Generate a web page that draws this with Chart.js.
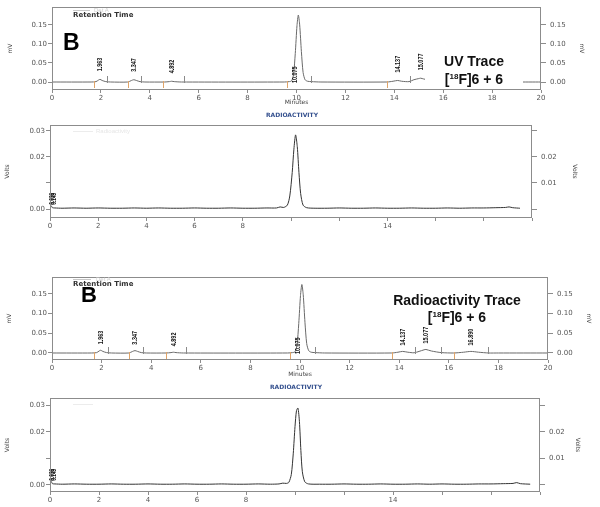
<!DOCTYPE html>
<html>
<head>
<meta charset="utf-8">
<script src="https://cdn.jsdelivr.net/npm/chart.js@4"></script>
<style>
body { margin: 0; background: #fff; }
#page { position: relative; width: 600px; height: 507px; overflow: hidden; font-family: "Liberation Sans", Arial, sans-serif; }
.panel { position: absolute; left: 0; width: 600px; }
.txt { position: absolute; white-space: nowrap; line-height: 1; }
.big { font-weight: bold; font-size: 14px; color: #111; text-align: center; line-height: 16px; }
.big sup { font-size: 8px; vertical-align: 5px; }
.faint { position: absolute; background: #c8c8c8; height: 1px; }
</style>
</head>
<body>
<div id="page">
  <div class="panel" style="top:0;height:108px"><canvas id="uvTop"></canvas></div>
  <div class="panel" style="top:100px;height:130px"><canvas id="radTop"></canvas></div>
  <div class="panel" style="top:262px;height:118px"><canvas id="uvBot"></canvas></div>
  <div class="panel" style="top:380px;height:127px"><canvas id="radBot"></canvas></div>

  <!-- panel 1 texts -->
  <div class="faint" style="left:73px;top:10px;width:17px"></div>
  <div class="txt" style="left:94px;top:7px;font-size:6px;color:#d0d0d0">Det A</div>
  <div class="txt" style="left:73px;top:11px;font:bold 7px 'DejaVu Sans';color:#333">Retention Time</div>
  <div class="txt" style="left:63px;top:31px;font-weight:bold;font-size:23px;color:#000">B</div>
  <div class="txt" style="left:425px;top:50px;width:98px;height:36px;background:#fff"></div>
  <div class="txt big" style="left:425px;top:53px;width:98px">UV Trace</div>
  <div class="txt big" style="left:425px;top:69px;width:98px">[<sup>18</sup>F]6 + 6</div>

  <!-- panel 2 texts -->
  <div class="txt" style="left:242px;top:111px;width:100px;text-align:center;font:bold 6px 'DejaVu Sans';color:#34508e">RADIOACTIVITY</div>
  <div class="faint" style="left:73px;top:131px;width:20px;background:#ececec"></div>
  <div class="txt" style="left:96px;top:128px;font-size:6px;color:#e6e6e6">Radioactivity</div>

  <!-- panel 3 texts -->
  <div class="faint" style="left:73px;top:279px;width:18px"></div>
  <div class="txt" style="left:96px;top:276px;font-size:6px;color:#d0d0d0">Det A</div>
  <div class="txt" style="left:73px;top:280px;font:bold 7px 'DejaVu Sans';color:#333">Retention Time</div>
  <div class="txt" style="left:81px;top:284px;font-weight:bold;font-size:22px;color:#000">B</div>
  <div class="txt big" style="left:377px;top:292px;width:160px">Radioactivity Trace</div>
  <div class="txt big" style="left:377px;top:307px;width:160px">[<sup>18</sup>F]6 + 6</div>

  <!-- panel 4 texts -->
  <div class="txt" style="left:246px;top:383px;width:100px;text-align:center;font:bold 6px 'DejaVu Sans';color:#34508e">RADIOACTIVITY</div>
  <div class="faint" style="left:73px;top:404px;width:20px;background:#ececec"></div>
</div>

<script>
// axis ticks
const minuteTicks = [0, 2, 4, 6, 8, 10, 12, 14, 16, 18, 20];
const uvMinuteLabels = [0, 2, 4, 6, 8, 10, 12, 14, 16, 18, 20];
const radMinuteLabels = [0, 2, 4, 6, 8, 14];
const mvTicks = [0, 0.05, 0.10, 0.15];
const voltTicks = [0, 0.01, 0.02, 0.03];
const voltLeftLabels = [0, 0.02, 0.03];
const voltRightLabels = [0.01, 0.02];

// UV trace (top), minutes / mV
const uvTopTime = [0, 1.6, 1.8, 1.9, 1.963, 2.05, 2.2, 2.4, 3.1, 3.25, 3.347, 3.45, 3.6, 3.8, 4.6, 4.8, 4.892, 5.0, 5.3,
  9.5, 9.7, 9.8, 9.88, 9.95, 10.02, 10.075, 10.13, 10.2, 10.27, 10.35, 10.45, 10.6, 11,
  13.7, 13.95, 14.137, 14.3, 14.6, 14.8, 15.0, 15.077, 15.2, 15.5, 16, 17, 18, 19, 20];
const uvTopMv = [0, 0, 0.001, 0.005, 0.007, 0.004, 0.001, 0, 0, 0.004, 0.006, 0.004, 0.001, 0, 0, 0.001, 0.002, 0.001, 0,
  0, 0.001, 0.003, 0.02, 0.075, 0.148, 0.176, 0.15, 0.08, 0.025, 0.006, 0.002, 0.001, 0,
  0, 0.002, 0.004, 0.002, 0.001, 0.006, 0.009, 0.010, 0.008, 0.004, 0.001, 0, 0, 0, 0];
const uvTopPeaks = [1.963, 3.347, 4.892, 10.075, 14.137, 15.077];
const uvTopStarts = [1.7, 3.1, 4.55, 9.6, 13.7];
const uvTopEnds = [2.25, 3.65, 5.4, 10.6, 14.65];

// radioactivity trace (top), minutes / volts
const radTopTime = [0, 0.05, 0.1, 0.2, 0.5, 1, 1.5, 2, 2.5, 3, 3.5, 4, 4.5, 5, 5.5, 6, 6.5, 7, 7.5, 8, 8.5, 9, 9.4, 9.55, 9.7,
  9.85, 9.95, 10.05, 10.12, 10.19, 10.26, 10.33, 10.4, 10.5, 10.65, 11, 11.5, 12, 12.5, 13, 13.5, 14, 14.5, 15, 15.5,
  16, 16.5, 17, 17.5, 18, 18.5, 18.9, 19.05, 19.2, 19.5];
const radTopV = [0.0006, 0.0012, 0.0005, 0.0004, 0.0003, 0.0004, 0.0003, 0.0004, 0.0003, 0.0003, 0.0004, 0.0003, 0.0004,
  0.0003, 0.0003, 0.0004, 0.0003, 0.0003, 0.0004, 0.0003, 0.0003, 0.0004, 0.0004, 0.0008, 0.0006,
  0.0015, 0.005, 0.014, 0.023, 0.0285, 0.024, 0.014, 0.006, 0.0015, 0.0005, 0.0003, 0.0003, 0.0004, 0.0003, 0.0003,
  0.0004, 0.0003, 0.0003, 0.0004, 0.0003, 0.0003, 0.0004, 0.0003, 0.0004, 0.0004, 0.0005, 0.0006, 0.0008, 0.0005, 0.0003];
const radTopPeaks = [0.096, 0.149];

// UV trace (bottom)
const uvBotTime = [0, 1.6, 1.8, 1.9, 1.963, 2.05, 2.2, 2.4, 3.1, 3.25, 3.347, 3.45, 3.6, 3.8, 4.6, 4.8, 4.892, 5.0, 5.3,
  9.5, 9.7, 9.8, 9.88, 9.95, 10.02, 10.075, 10.13, 10.2, 10.27, 10.35, 10.45, 10.6, 11,
  13.7, 13.95, 14.137, 14.35, 14.6, 14.8, 15.0, 15.077, 15.3, 15.7, 16.2, 16.6, 16.89, 17.2, 17.6, 18, 20];
const uvBotMv = [0, 0, 0.001, 0.005, 0.007, 0.004, 0.001, 0, 0, 0.004, 0.006, 0.004, 0.001, 0, 0, 0.001, 0.002, 0.001, 0,
  0, 0.001, 0.003, 0.02, 0.075, 0.146, 0.174, 0.148, 0.078, 0.024, 0.006, 0.002, 0.001, 0,
  0, 0.002, 0.004, 0.002, 0.0005, 0.004, 0.008, 0.009, 0.005, 0.001, 0, 0.002, 0.004, 0.002, 0, 0, 0];
const uvBotPeaks = [1.963, 3.347, 4.892, 10.075, 14.137, 15.077, 16.890];
const uvBotStarts = [1.7, 3.1, 4.6, 9.6, 13.7, 16.2];
const uvBotEnds = [2.25, 3.65, 5.4, 10.6, 14.65, 15.7, 17.6];

// radioactivity trace (bottom)
const radBotTime = [0, 0.05, 0.1, 0.2, 0.5, 1, 1.5, 2, 2.5, 3, 3.5, 4, 4.5, 5, 5.5, 6, 6.5, 7, 7.5, 8, 8.5, 9, 9.35, 9.5, 9.65,
  9.75, 9.85, 9.93, 10.0, 10.06, 10.12, 10.18, 10.24, 10.3, 10.4, 10.55, 11, 11.5, 12, 12.5, 13, 13.5, 14, 14.5, 15, 15.5,
  16, 16.5, 17, 17.5, 18, 18.5, 18.9, 19.05, 19.2, 19.6];
const radBotV = [0.0006, 0.0013, 0.0005, 0.0004, 0.0003, 0.0004, 0.0003, 0.0003, 0.0004, 0.0003, 0.0003, 0.0004, 0.0003,
  0.0003, 0.0004, 0.0003, 0.0003, 0.0004, 0.0003, 0.0003, 0.0004, 0.0003, 0.0004, 0.0007, 0.0006,
  0.001, 0.004, 0.012, 0.022, 0.028, 0.029, 0.024, 0.013, 0.005, 0.0012, 0.0004, 0.0003, 0.0003, 0.0004, 0.0003, 0.0003,
  0.0004, 0.0003, 0.0003, 0.0004, 0.0003, 0.0004, 0.0003, 0.0003, 0.0004, 0.0004, 0.0005, 0.0006, 0.0009, 0.0005, 0.0003];
const radBotPeaks = [0.096, 0.149];

const tickFont = { family: "DejaVu Sans", size: 7 };
const tickColor = "#555";

// box around the plot area
const framePlugin = {
  id: "frame",
  afterDraw(chart) {
    const { ctx, chartArea: a } = chart;
    ctx.save();
    ctx.strokeStyle = "#8c8c8c";
    ctx.lineWidth = 1;
    ctx.strokeRect(Math.round(a.left) + 0.5, Math.round(a.top) + 0.5, Math.round(a.width) - 1, Math.round(a.height) - 1);
    ctx.restore();
  }
};

// integration start / end marks on the baseline
const marksPlugin = {
  id: "marks",
  afterDatasetsDraw(chart, args, opts) {
    const { ctx, scales: { x, y } } = chart;
    const y0 = Math.round(y.getPixelForValue(0));
    ctx.save();
    ctx.lineWidth = 1;
    (opts.starts || []).forEach(t => {
      const px = Math.round(x.getPixelForValue(t)) + 0.5;
      ctx.strokeStyle = "#e0a468";
      ctx.beginPath(); ctx.moveTo(px, y0 - 1); ctx.lineTo(px, y0 + 6); ctx.stroke();
    });
    (opts.ends || []).forEach(t => {
      const px = Math.round(x.getPixelForValue(t)) + 0.5;
      ctx.strokeStyle = "#8a8a8a";
      ctx.beginPath(); ctx.moveTo(px, y0 + 1); ctx.lineTo(px, y0 - 6); ctx.stroke();
    });
    ctx.restore();
  }
};

// rotated retention-time labels above each peak
const peakLabelPlugin = {
  id: "peakLabels",
  afterDatasetsDraw(chart, args, opts) {
    if (!opts.times) return;
    const { ctx, scales: { x, y } } = chart;
    const trace = chart.data.datasets[0].data;
    ctx.save();
    ctx.font = opts.font;
    ctx.fillStyle = opts.color;
    ctx.textAlign = "left";
    ctx.textBaseline = "middle";
    opts.times.forEach(t => {
      const apex = trace.reduce((a, p) => Math.abs(p.x - t) < Math.abs(a.x - t) ? p : a);
      let px = x.getPixelForValue(t);
      let py;
      if (apex.y > opts.tall) {
        py = y.getPixelForValue(0) + 1;
        px -= 4;
      } else {
        py = y.getPixelForValue(apex.y) - opts.gap;
      }
      ctx.save();
      ctx.translate(px, py);
      ctx.rotate(-Math.PI / 2);
      ctx.scale(0.68, 1);
      ctx.fillText(t.toFixed(3), 0, 0);
      ctx.restore();
    });
    ctx.restore();
  }
};

function yAxis(pos, cfg, labels, width) {
  return {
    type: "linear",
    position: pos,
    min: cfg.yMin,
    max: cfg.yMax,
    afterBuildTicks: s => { s.ticks = cfg.yTicks.map(v => ({ value: v })); },
    afterFit: s => { s.width = width; s.paddingTop = 0; s.paddingBottom = 0; },
    ticks: {
      font: tickFont, color: tickColor, padding: pos === "left" ? 1 : 4,
      callback: v => labels.includes(v) ? v.toFixed(2) : ""
    },
    grid: { drawOnChartArea: false, tickLength: pos === "left" ? 4 : 5, color: "#8c8c8c" },
    border: { display: false },
    title: { display: true, text: cfg.unit, font: { family: "DejaVu Sans", size: 6 }, color: "#444", padding: { top: 4, bottom: 4 } }
  };
}

function makeChart(id, cfg) {
  return new Chart(document.getElementById(id), {
    type: "line",
    data: {
      datasets: [{
        data: cfg.time.map((t, i) => ({ x: t, y: cfg.val[i] })),
        borderColor: cfg.color,
        borderWidth: 1,
        pointRadius: 0,
        tension: 0.25
      }]
    },
    options: {
      animation: false,
      responsive: true,
      maintainAspectRatio: false,
      layout: { padding: cfg.pad },
      plugins: {
        legend: { display: false },
        tooltip: { enabled: false },
        marks: { starts: cfg.starts, ends: cfg.ends },
        peakLabels: { times: cfg.peaks, font: cfg.labelFont, color: "#111", gap: cfg.gap, tall: 0.05 }
      },
      scales: {
        x: {
          type: "linear",
          min: 0,
          max: 20,
          afterBuildTicks: s => { s.ticks = minuteTicks.map(v => ({ value: v })); },
          afterFit: s => { s.height = cfg.xH; s.paddingLeft = 0; s.paddingRight = 0; },
          ticks: { font: tickFont, color: tickColor, padding: 1, autoSkip: false, maxRotation: 0,
            callback: v => cfg.xLabels.includes(v) ? String(v) : "" },
          grid: { drawOnChartArea: false, tickLength: 3, color: "#8c8c8c" },
          border: { display: false },
          title: cfg.xTitle
            ? { display: true, text: "Minutes", font: { family: "DejaVu Sans", size: 6 }, color: "#444", padding: { top: 0, bottom: 2 } }
            : { display: false }
        },
        y: yAxis("left", cfg, cfg.leftLabels, cfg.yW),
        y2: yAxis("right", cfg, cfg.rightLabels, cfg.y2W)
      }
    },
    plugins: [framePlugin, marksPlugin, peakLabelPlugin]
  });
}

makeChart("uvTop", {
  time: uvTopTime, val: uvTopMv, color: "#6a6a6a",
  peaks: uvTopPeaks, starts: uvTopStarts, ends: uvTopEnds,
  yMin: -0.021, yMax: 0.197, yTicks: mvTicks, leftLabels: mvTicks, rightLabels: mvTicks, unit: "mV",
  xLabels: uvMinuteLabels, xTitle: true, xH: 18, yW: 49, y2W: 48,
  pad: { top: 7, left: 3, right: 11, bottom: 0 },
  labelFont: "bold 8px 'Liberation Sans'", gap: 8
});

makeChart("radTop", {
  time: radTopTime, val: radTopV, color: "#333",
  peaks: radTopPeaks, starts: [], ends: [],
  yMin: -0.00346, yMax: 0.0323, yTicks: voltTicks, leftLabels: voltLeftLabels, rightLabels: voltRightLabels, unit: "Volts",
  xLabels: radMinuteLabels, xTitle: false, xH: 12, yW: 50, y2W: 50,
  pad: { top: 25, left: 0, right: 18, bottom: 0 },
  labelFont: "bold 7px 'Liberation Sans'", gap: 3
});

makeChart("uvBot", {
  time: uvBotTime, val: uvBotMv, color: "#6a6a6a",
  peaks: uvBotPeaks, starts: uvBotStarts, ends: uvBotEnds,
  yMin: -0.0178, yMax: 0.193, yTicks: mvTicks, leftLabels: mvTicks, rightLabels: mvTicks, unit: "mV",
  xLabels: uvMinuteLabels, xTitle: true, xH: 20, yW: 50, y2W: 48,
  pad: { top: 15, left: 2, right: 4, bottom: 0 },
  labelFont: "bold 8px 'Liberation Sans'", gap: 6
});

makeChart("radBot", {
  time: radBotTime, val: radBotV, color: "#333",
  peaks: radBotPeaks, starts: [], ends: [],
  yMin: -0.00264, yMax: 0.0328, yTicks: voltTicks, leftLabels: voltLeftLabels, rightLabels: voltRightLabels, unit: "Volts",
  xLabels: radMinuteLabels, xTitle: false, xH: 15, yW: 50, y2W: 45,
  pad: { top: 18, left: 0, right: 15, bottom: 0 },
  labelFont: "bold 7px 'Liberation Sans'", gap: 3
});
</script>
</body>
</html>
